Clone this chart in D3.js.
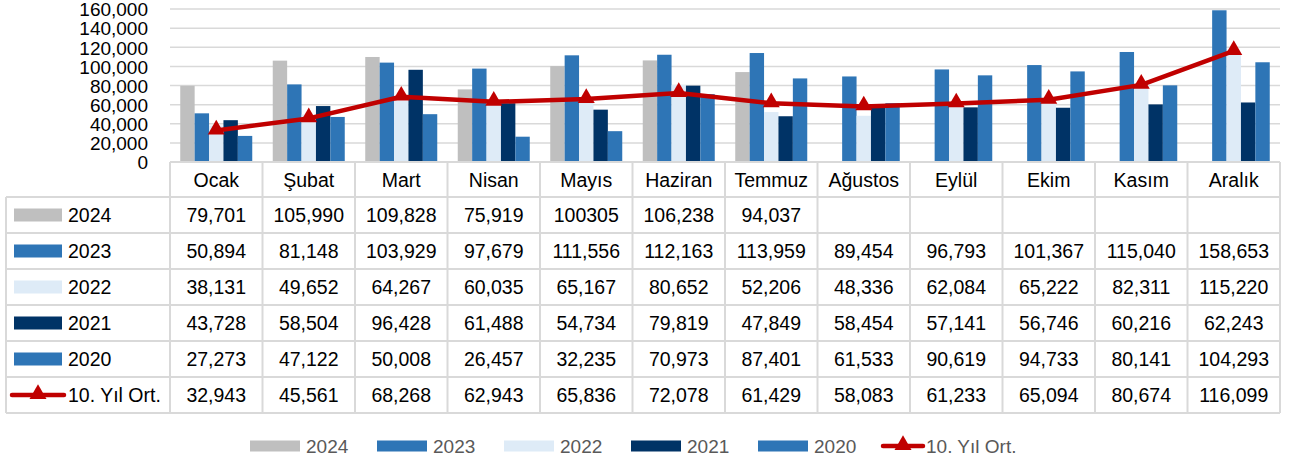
<!DOCTYPE html>
<html>
<head>
<meta charset="utf-8">
<title>Aylık veriler</title>
<style type="text/css">
	body { margin: 0; background: #fff; }
	#chart { display: block; }
	text { font-family: "Liberation Sans", Arial, sans-serif; fill: #000; }
	.legend text { font-family: "Liberation Sans Narrow", "Liberation Sans", sans-serif; fill: #595959; }
</style>
</head>
<body>
<svg id="chart"></svg>
<script src="https://cdn.jsdelivr.net/npm/d3@7"></script>
<script type="text/javascript">

	// months (categories)
	var months = ["Ocak", "Şubat", "Mart", "Nisan", "Mayıs", "Haziran", "Temmuz", "Ağustos", "Eylül", "Ekim", "Kasım", "Aralık"]

	// series values per year
	var v2024 = [79701, 105990, 109828, 75919, 100305, 106238, 94037, null, null, null, null, null]
	var v2023 = [50894, 81148, 103929, 97679, 111556, 112163, 113959, 89454, 96793, 101367, 115040, 158653]
	var v2022 = [38131, 49652, 64267, 60035, 65167, 80652, 52206, 48336, 62084, 65222, 82311, 115220]
	var v2021 = [43728, 58504, 96428, 61488, 54734, 79819, 47849, 58454, 57141, 56746, 60216, 62243]
	var v2020 = [27273, 47122, 50008, 26457, 32235, 70973, 87401, 61533, 90619, 94733, 80141, 104293]
	var avg10 = [32943, 45561, 68268, 62943, 65836, 72078, 61429, 58083, 61233, 65094, 80674, 116099]

	var yTicks = [0, 20000, 40000, 60000, 80000, 100000, 120000, 140000, 160000]

	// the one cell that the source table shows without a thousands separator
	var plainCells = [["2024", "Mayıs"]]

	var barSeries = [
		{name: "2024", values: v2024, color: "#bfbfbf"},
		{name: "2023", values: v2023, color: "#2e75b6"},
		{name: "2022", values: v2022, color: "#deebf7"},
		{name: "2021", values: v2021, color: "#003366"},
		{name: "2020", values: v2020, color: "#2e75b6"}
	]
	var lineSeries = {name: "10. Yıl Ort.", values: avg10, color: "#c00000"}

	var width = 1296, height = 466
	var plotLeft = 170, plotRight = 1280, plotTop = 9, plotBottom = 162
	var rowH = 36, headerBottom = 197, tableLeft = 6
	var gridColor = "#d9d9d9"
	var cellFont = "19.5px"

	var svg = d3.select("#chart").attr("width", width).attr("height", height)

	var x = d3.scaleBand().domain(months).range([plotLeft, plotRight])
	var xInner = d3.scaleBand().domain(barSeries.map(d => d.name))
		.range([10.25, x.bandwidth() - 10.25])
	var y = d3.scaleLinear().domain([0, 160000]).range([plotBottom, plotTop])
	var fmt = d3.format(",")

	// gridlines
	svg.append("g").selectAll("line")
		.data(yTicks.filter(d => d > 0))
		.enter().append("line")
		.attr("x1", plotLeft).attr("x2", plotRight)
		.attr("y1", d => y(d)).attr("y2", d => y(d))
		.attr("stroke", gridColor).attr("stroke-width", 1.5)

	// y axis labels
	var yAxis = d3.axisLeft(y).tickValues(yTicks).tickFormat(fmt).tickSize(0).tickPadding(0)
	svg.append("g")
		.attr("transform", "translate(148,0)")
		.call(yAxis)
		.call(g => g.select(".domain").remove())
		.selectAll("text")
		.attr("font-family", null)
		.attr("font-size", null)
		.style("font-size", "19px")
		.attr("dy", "0.36em")

	// bars
	var groups = svg.append("g").selectAll("g")
		.data(barSeries)
		.enter().append("g")
		.attr("fill", d => d.color)

	groups.selectAll("rect")
		.data(s => s.values.map((v, i) => ({name: s.name, month: months[i], v: v})).filter(d => d.v != null))
		.enter().append("rect")
		.attr("x", d => x(d.month) + xInner(d.name))
		.attr("width", xInner.bandwidth())
		.attr("y", d => y(d.v))
		.attr("height", d => y(0) - y(d.v))

	// 10 year average line
	var line = d3.line()
		.x((d, i) => x(months[i]) + x.bandwidth() / 2)
		.y(d => y(d))

	svg.append("path")
		.datum(lineSeries.values)
		.attr("d", line)
		.attr("fill", "none")
		.attr("stroke", lineSeries.color)
		.attr("stroke-width", 4.5)
		.attr("stroke-linejoin", "round")

	var tri = d3.symbol().type(d3.symbolTriangle).size(125)
	svg.append("g").selectAll("path")
		.data(lineSeries.values)
		.enter().append("path")
		.attr("d", tri)
		.attr("transform", (d, i) => "translate(" + (x(months[i]) + x.bandwidth() / 2) + "," + (y(d) - 1) + ")")
		.attr("fill", lineSeries.color)

	// data table
	var allRows = barSeries.concat([lineSeries])
	var tableBottom = headerBottom + rowH * allRows.length
	var table = svg.append("g")

	// horizontal borders
	table.append("line")
		.attr("x1", plotLeft).attr("x2", plotRight)
		.attr("y1", plotBottom).attr("y2", plotBottom)
		.attr("stroke", gridColor).attr("stroke-width", 2)
	table.selectAll("line.h")
		.data(d3.range(allRows.length + 1))
		.enter().append("line").attr("class", "h")
		.attr("x1", tableLeft).attr("x2", plotRight)
		.attr("y1", i => headerBottom + i * rowH).attr("y2", i => headerBottom + i * rowH)
		.attr("stroke", gridColor).attr("stroke-width", 2)

	// vertical borders
	var colEdges = months.map(m => x(m)).concat([plotRight])
	table.selectAll("line.v")
		.data(colEdges)
		.enter().append("line").attr("class", "v")
		.attr("x1", d => d).attr("x2", d => d)
		.attr("y1", plotBottom).attr("y2", tableBottom)
		.attr("stroke", gridColor).attr("stroke-width", 2)
	table.append("line")
		.attr("x1", tableLeft).attr("x2", tableLeft)
		.attr("y1", headerBottom).attr("y2", tableBottom)
		.attr("stroke", gridColor).attr("stroke-width", 2)

	// month header
	table.selectAll("text.m")
		.data(months)
		.enter().append("text").attr("class", "m")
		.attr("x", d => x(d) + x.bandwidth() / 2)
		.attr("y", (plotBottom + headerBottom) / 2)
		.attr("dy", "0.36em")
		.attr("text-anchor", "middle")
		.style("font-size", cellFont)
		.text(d => d)

	// rows
	var rows = table.selectAll("g.row")
		.data(allRows)
		.enter().append("g").attr("class", "row")
		.attr("transform", (d, i) => "translate(0," + (headerBottom + i * rowH + rowH / 2) + ")")

	rows.each(function(s) {
		var g = d3.select(this)
		if (s.values === avg10) {
			g.append("line")
				.attr("x1", 12).attr("x2", 64).attr("y1", 0).attr("y2", 0)
				.attr("stroke", s.color).attr("stroke-width", 4.5).attr("stroke-linecap", "round")
			g.append("path").attr("d", tri).attr("transform", "translate(38,-1)").attr("fill", s.color)
		} else {
			g.append("rect")
				.attr("x", 14).attr("y", -6.5).attr("width", 48).attr("height", 13)
				.attr("fill", s.color)
		}
		g.append("text")
			.attr("x", 68).attr("dy", "0.36em")
			.style("font-size", cellFont)
			.text(s.name)

		g.selectAll("text.val")
			.data(s.values.map((v, i) => ({v: v, m: months[i]})).filter(d => d.v != null))
			.enter().append("text").attr("class", "val")
			.attr("x", d => x(d.m) + x.bandwidth() / 2)
			.attr("dy", "0.36em")
			.attr("text-anchor", "middle")
			.style("font-size", cellFont)
			.text(d => plainCells.some(p => p[0] === s.name && p[1] === d.m) ? String(d.v) : fmt(d.v))
	})

	// legend at the bottom
	var legendItems = [
		{name: "2024", x: 250}, {name: "2023", x: 377}, {name: "2022", x: 504},
		{name: "2021", x: 631}, {name: "2020", x: 758}, {name: "10. Yıl Ort.", x: 883}
	]
	var legend = svg.append("g").attr("class", "legend").attr("transform", "translate(0,446)")
	legendItems.forEach(function(it, i) {
		var s = allRows[i]
		var g = legend.append("g").attr("transform", "translate(" + it.x + ",0)")
		if (s === lineSeries) {
			g.append("line").attr("x1", 0).attr("x2", 40).attr("y1", 0).attr("y2", 0)
				.attr("stroke", s.color).attr("stroke-width", 4.5).attr("stroke-linecap", "round")
			g.append("path").attr("d", tri).attr("transform", "translate(20,-1)").attr("fill", s.color)
			g.append("text").attr("x", 43).attr("dy", "0.36em").style("font-size", "19px").text(s.name)
		} else {
			g.append("rect").attr("x", 0).attr("y", -5.5).attr("width", 50).attr("height", 11).attr("fill", s.color)
			g.append("text").attr("x", 56).attr("dy", "0.36em").style("font-size", "19px").text(s.name)
		}
	})
</script>
</body>
</html>
